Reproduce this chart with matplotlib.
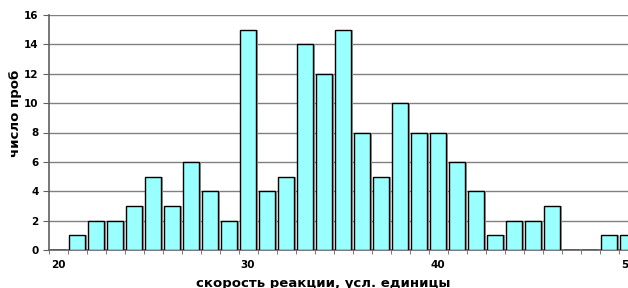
import matplotlib
matplotlib.use("Agg")
from matplotlib import pyplot as plt
import numpy as np

# speed classes and number of samples in each
speed = list(range(20, 51))
counts = [0, 1, 2, 2, 3, 5, 3, 6, 4, 2,
          15, 4, 5, 14, 12, 15, 8, 5, 10, 8,
          8, 6, 4, 1, 2, 2, 3, 0, 0, 1, 1]
xticklabels = ["20", "30", "40", "50"]

plt.rcParams['font.family'] = ['DejaVu Sans']

fig = plt.figure(figsize=(6.28, 2.88), dpi=100)
# axes runs past the right edge on purpose (original is cropped there)
ax = fig.add_axes([48.5/628, 38/288, 589/628, 235/288])

x = np.array(speed)
y = np.array(counts)
ax.bar(x + 0.1, y, width=0.84, color='#a0a0a0', edgecolor='none', zorder=2)
ax.bar(x, y, width=0.84, color='#99ffff', edgecolor='black', linewidth=1.0, zorder=3)

ax.set_xlim(19.5, 50.5)
ax.set_ylim(0, 16)
ax.set_yticks(range(0, 17, 2))
ax.yaxis.grid(True, color='#808080', linewidth=1.0, zorder=0)
ax.set_axisbelow(True)

ax.set_xticks([20, 30, 40, 50])
ax.set_xticklabels(xticklabels)
ax.set_xticks(np.arange(19.5, 51, 1), minor=True)
ax.tick_params(axis='x', which='major', length=0, pad=7, labelsize=7.5)
ax.tick_params(axis='x', which='minor', length=3, color='#606060')
ax.tick_params(axis='y', length=4, color='#606060', labelsize=7.5, pad=3)
for lab in ax.get_xticklabels() + ax.get_yticklabels():
    lab.set_fontweight('bold')

for s in ['right', 'top']:
    ax.spines[s].set_visible(False)
ax.spines['left'].set_color('#606060')
ax.spines['bottom'].set_color('#606060')
ax.spines['left'].set_linewidth(1.2)
ax.spines['bottom'].set_linewidth(1.2)

fig.text(323/628, 1 - 284/288, "скорость реакции, усл. единицы",
         ha='center', va='center', fontsize=9.5, fontweight='bold')
fig.text(15/628, 1 - 113/288, "число проб", rotation=90,
         ha='center', va='center', fontsize=9.5, fontweight='bold')

fig.savefig("out.png", dpi=100)
